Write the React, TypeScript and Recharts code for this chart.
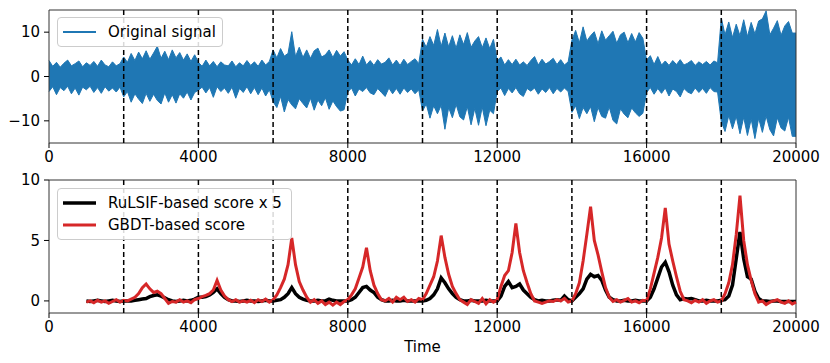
import React from 'react'
import {
  ComposedChart,
  LineChart,
  Area,
  Line,
  XAxis,
  YAxis,
  ReferenceLine,
  ReferenceArea,
  Legend,
} from 'recharts'

const FONT = '"DejaVu Sans", sans-serif'
const BLUE = '#1f77b4'
const RED = '#d62728'

// change points of the signal
const changePoints = [2000, 4000, 6000, 8000, 10000, 12000, 14000, 16000, 18000]
const xTicks = [0, 4000, 8000, 12000, 16000, 20000]
const signalTicks = [-10, 0, 10]
const scoreTicks = [0, 5, 10]

// envelope of the original signal, one max / min per 100 time steps
const signalHigh = [
  3.6, 2.3, 3.2, 2.1, 3.0, 3.7, 2.4, 2.9, 3.5, 2.2, 3.1, 2.5, 3.4, 2.3, 3.7, 2.6, 2.2, 3.3, 2.4, 2.9,
  4.4, 3.2, 5.2, 3.6, 5.5, 4.0, 5.8, 3.9, 5.3, 6.8, 4.1, 5.7, 3.8, 6.0, 4.2, 5.4, 3.7, 5.1, 3.4, 4.9,
  3.2, 2.3, 3.7, 2.4, 3.4, 2.2, 3.3, 2.6, 2.4, 3.5, 2.2, 3.1, 2.4, 3.6, 2.5, 3.3, 2.3, 3.7, 2.6, 3.4,
  6.0, 4.2, 6.3, 4.6, 5.2, 10.1, 4.5, 6.6, 4.3, 6.0, 4.1, 5.8, 6.4, 4.4, 4.9, 6.0, 4.3, 5.9, 4.6, 5.6,
  3.7, 2.6, 4.0, 2.7, 4.6, 2.6, 3.6, 2.5, 3.8, 2.8, 3.2, 4.2, 2.6, 3.7, 2.5, 3.9, 2.7, 3.4, 4.0, 2.9,
  8.4, 6.6, 9.0, 7.0, 10.6, 6.8, 9.8, 6.7, 9.2, 6.4, 9.4, 7.2, 9.9, 6.6, 8.0, 9.0, 6.5, 8.7, 6.3, 8.4,
  3.6, 4.4, 2.6, 3.8, 2.7, 3.9, 2.6, 3.3, 2.5, 3.6, 4.5, 2.6, 3.9, 2.8, 3.4, 4.1, 2.7, 3.8, 2.6, 3.3,
  8.2, 10.4, 7.6, 11.2, 8.0, 9.2, 10.1, 7.4, 10.3, 8.2, 9.2, 10.2, 7.5, 9.4, 10.0, 7.6, 9.7, 7.8, 9.9, 8.6,
  3.7, 4.7, 2.7, 4.5, 2.6, 3.5, 2.5, 3.6, 2.7, 3.8, 2.6, 3.0, 3.6, 2.5, 3.3, 2.7, 3.4, 2.6, 3.5, 3.1,
  13.2, 9.4, 12.3, 8.8, 11.8, 9.2, 12.8, 9.0, 12.2, 9.6, 12.5, 13.0, 14.8, 9.4, 10.9, 12.6, 9.3, 11.4, 12.4, 9.8,
]
const signalLow = [
  -3.4, -2.3, -4.1, -2.5, -3.2, -2.2, -3.9, -2.6, -4.2, -2.4, -3.0, -2.2, -3.6, -2.5, -3.8, -2.3, -3.3, -2.6, -3.5, -2.4,
  -4.6, -3.4, -5.8, -3.9, -5.1, -6.1, -3.8, -5.6, -4.0, -5.4, -6.2, -3.7, -5.8, -4.1, -6.0, -3.9, -4.9, -3.5, -5.3, -3.6,
  -3.1, -2.4, -3.7, -2.5, -4.7, -2.3, -3.4, -2.6, -3.8, -2.4, -4.9, -2.7, -3.6, -2.3, -3.9, -2.5, -4.1, -2.6, -4.4, -3.0,
  -5.7, -7.0, -4.5, -8.0, -5.2, -6.4, -7.3, -5.0, -6.1, -7.1, -4.9, -7.6, -5.3, -6.6, -4.8, -7.4, -5.5, -6.8, -7.8, -7.5,
  -3.5, -2.6, -4.4, -2.8, -3.4, -2.5, -3.7, -4.1, -2.7, -3.6, -4.5, -2.6, -3.9, -2.7, -4.0, -2.6, -3.6, -2.8, -3.9, -3.0,
  -7.8, -6.2, -9.4, -6.6, -8.4, -6.5, -11.9, -7.0, -9.3, -6.3, -9.1, -9.8, -6.8, -10.9, -7.2, -11.0, -6.9, -11.1, -7.6, -8.4,
  -3.4, -2.6, -4.3, -2.7, -3.7, -2.5, -3.9, -4.5, -2.7, -3.3, -2.6, -4.0, -2.8, -3.6, -2.5, -3.9, -2.7, -3.5, -2.6, -3.4,
  -8.1, -6.6, -9.5, -7.0, -8.4, -6.8, -10.2, -7.0, -9.0, -9.4, -6.9, -9.9, -10.7, -7.3, -8.5, -9.3, -7.1, -8.2, -9.0, -8.3,
  -3.6, -2.5, -4.0, -2.7, -3.8, -2.6, -4.4, -2.8, -3.4, -4.6, -2.7, -3.5, -3.9, -2.6, -3.6, -2.7, -3.8, -2.5, -3.4, -3.5,
  -10.2, -12.4, -8.8, -11.8, -9.0, -12.9, -9.2, -13.3, -9.6, -14.0, -9.4, -12.6, -8.9, -12.0, -13.4, -9.3, -11.6, -12.3, -9.2, -13.5,
]

// scores, sampled every 100 steps from t = 1000 to t = 20000
const gbdtScore = [
  -0.1, 0.0, -0.15, 0.05, -0.1, 0.0, -0.2, -0.05, 0.1, -0.1,
  0.05, 0.0, 0.15, 0.3, 0.6, 1.1, 1.4, 1.0, 0.7, 0.8,
  0.6, 0.2, -0.2, -0.05, -0.1, 0.1, -0.1, 0.0, -0.15, 0.1,
  0.2, 0.35, 0.45, 0.6, 0.9, 1.7, 0.9, 0.4, 0.1, -0.05,
  0.1, -0.1, 0.0, -0.1, 0.05, -0.15, 0.1, -0.05, 0.15, -0.1,
  0.1, 0.5, 1.1, 1.8, 3.0, 5.2, 3.0, 1.6, 0.9, 0.3,
  -0.1, 0.1, -0.2, 0.0, -0.3, -0.1, -0.35, -0.1, -0.3, -0.05,
  0.1, 0.5, 1.0, 1.9, 2.8, 4.4, 2.5, 1.3, 0.6, 0.1,
  0.0, 0.2, -0.1, 0.3, 0.1, 0.3, -0.05, 0.1, -0.1, 0.2,
  0.1, 0.6, 1.3, 2.0, 3.3, 5.4, 3.6, 2.2, 1.2, 0.6,
  0.1, -0.1, -0.3, 0.1, -0.05, -0.2, 0.2, -0.25, 0.1, -0.1,
  0.1, 1.2, 2.1, 2.5, 4.0, 6.4, 4.0, 2.5, 1.5, 0.6,
  0.0, -0.1, -0.2, -0.1, 0.0, -0.05, 0.1, 0.0, 0.2, -0.1,
  0.0, 0.6, 1.5, 3.3, 5.5, 7.8, 5.0, 3.8, 2.4, 1.1,
  0.3, -0.05, 0.1, -0.1, 0.05, 0.2, -0.1, 0.0, -0.15, 0.05,
  0.0, 1.0, 2.3, 3.6, 5.2, 7.7, 4.7, 3.3, 2.0, 0.8,
  0.1, 0.0, -0.15, 0.05, -0.1, 0.1, -0.2, 0.0, 0.1, -0.1,
  0.0, 0.6, 1.5, 3.0, 5.5, 8.7, 5.0, 3.0, 1.7, 0.6,
  -0.1, 0.0, -0.3, -0.1, 0.0, 0.1, -0.1, -0.2, 0.0, -0.25,
  -0.1,
]
const rulsifScore = [
  0.0, -0.05, 0.0, 0.05, 0.0, -0.05, 0.0, 0.05, 0.0, -0.05,
  0.0, 0.0, 0.0, 0.05, 0.1, 0.15, 0.2, 0.35, 0.45, 0.5,
  0.4, 0.25, 0.1, 0.0, -0.05, 0.0, 0.05, 0.0, 0.05, 0.15,
  0.3, 0.3, 0.35, 0.5, 0.7, 1.0, 0.6, 0.3, 0.1, 0.0,
  0.0, -0.05, 0.0, 0.05, 0.0, 0.0, -0.05, 0.0, 0.05, 0.0,
  0.0, 0.05, 0.1, 0.3, 0.6, 1.1, 0.6, 0.3, 0.15, 0.05,
  0.0, 0.0, 0.05, 0.0, 0.0, 0.15, 0.05, 0.0, 0.0, 0.0,
  0.0, 0.1, 0.3, 0.7, 1.1, 1.2, 0.9, 0.7, 0.3, 0.1,
  0.0, 0.0, 0.05, 0.0, 0.0, 0.05, 0.0, 0.0, 0.0, 0.0,
  0.0, 0.05, 0.2, 0.5, 1.0, 1.9, 1.5, 1.0, 0.6, 0.3,
  0.1, 0.0, 0.0, 0.05, 0.0, 0.0, 0.0, 0.05, 0.0, 0.0,
  0.0, 0.4, 1.2, 1.6, 1.1, 1.2, 1.4, 0.9, 0.6, 0.3,
  0.1, 0.0, 0.05, 0.0, 0.0, 0.05, 0.1, 0.05, 0.4, 0.1,
  0.0, 0.3, 0.6, 1.0, 1.8, 2.2, 2.0, 2.1, 1.7, 0.9,
  0.3, 0.1, 0.0, 0.0, 0.05, 0.0, 0.0, 0.05, 0.0, 0.0,
  0.0, 0.3, 1.0, 1.9, 2.8, 3.2, 2.4, 1.3, 0.5, 0.1,
  0.2, 0.15, 0.2, 0.1, 0.0, 0.0, 0.05, 0.0, 0.0, 0.0,
  0.05, 0.1, 0.4, 1.3, 3.5, 5.7, 3.5, 2.0, 1.8, 0.8,
  0.2, 0.0, 0.0, -0.05, 0.0, 0.0, -0.05, -0.05, -0.05, -0.05,
  -0.05,
]

const signalData = signalHigh
  .map((hi, i) => ({ t: i * 100, sig: [signalLow[i], hi] }))
  .concat([{ t: 20000, sig: [signalLow[signalLow.length - 1], signalHigh[signalHigh.length - 1]] }])

const scoreData = gbdtScore.map((g, i) => ({ t: 1000 + i * 100, gbdt: g, rulsif: rulsifScore[i] }))

const tickStyle = { fill: '#000', fontSize: 15, fontFamily: FONT }
const fmt = (v: number) => (v < 0 ? '\u2212' + Math.abs(v) : String(v))

function LegendBox({ items, width }: { items: { label: string; color: string; w: number }[]; width: number }) {
  return (
    <div
      style={{
        width,
        boxSizing: 'border-box',
        border: '1px solid #cccccc',
        borderRadius: 4,
        background: 'rgba(255,255,255,0.85)',
        padding: '3px 0 3px 5px',
        fontFamily: FONT,
        fontSize: 15,
        color: '#000',
      }}
    >
      {items.map((it) => (
        <div key={it.label} style={{ display: 'flex', alignItems: 'center', height: 22 }}>
          <svg width={33} height={10} style={{ marginRight: 12 }}>
            <line x1={0} y1={5} x2={33} y2={5} stroke={it.color} strokeWidth={it.w} />
          </svg>
          <span>{it.label}</span>
        </div>
      ))}
    </div>
  )
}

function Frame({ yMin, yMax }: { yMin: number; yMax: number }) {
  return (
    <ReferenceArea x1={0} x2={20000} y1={yMin} y2={yMax} fill="none" stroke="#333" strokeWidth={1} />
  )
}

export default function App() {
  return (
    <div style={{ position: 'absolute', left: 0, top: 0, width: 830, height: 363, background: '#fff' }}>
      <ComposedChart width={830} height={170} data={signalData} margin={{ top: 10, right: 34, left: 9, bottom: 2 }}>
        <XAxis
          dataKey="t"
          type="number"
          domain={[0, 20000]}
          ticks={xTicks}
          tick={tickStyle}
          tickLine={{ stroke: '#000' }}
          tickSize={5}
          tickMargin={3}
          axisLine={false}
          height={25}
        />
        <YAxis
          type="number"
          domain={[-15, 15]}
          ticks={signalTicks}
          tickFormatter={fmt}
          tick={tickStyle}
          tickLine={{ stroke: '#000' }}
          tickSize={5}
          tickMargin={4}
          axisLine={false}
          width={40}
          allowDataOverflow
        />
        <Area
          type="linear"
          dataKey="sig"
          stroke={BLUE}
          strokeWidth={1}
          fill={BLUE}
          fillOpacity={1}
          isAnimationActive={false}
          name="Original signal"
        />
        {changePoints.map((x) => (
          <ReferenceLine key={x} x={x} stroke="#000" strokeWidth={1.5} strokeDasharray="5 3" />
        ))}
        <Frame yMin={-15} yMax={15} />
        <Legend
          layout="horizontal"
          verticalAlign="middle"
          align="center"
          wrapperStyle={{ left: 57, top: 17, width: 166 }}
          content={() => <LegendBox width={166} items={[{ label: 'Original signal', color: BLUE, w: 2 }]} />}
        />
      </ComposedChart>
      <LineChart width={830} height={193} data={scoreData} margin={{ top: 10, right: 34, left: 9, bottom: 2 }}>
        <XAxis
          dataKey="t"
          type="number"
          domain={[0, 20000]}
          ticks={xTicks}
          tick={tickStyle}
          tickLine={{ stroke: '#000' }}
          tickSize={5}
          tickMargin={3}
          axisLine={false}
          height={48}
          label={{ value: 'Time', position: 'insideBottom', offset: 9, fill: '#000', fontSize: 15, fontFamily: FONT }}
        />
        <YAxis
          type="number"
          domain={[-1, 10]}
          ticks={scoreTicks}
          tick={tickStyle}
          tickLine={{ stroke: '#000' }}
          tickSize={5}
          tickMargin={4}
          axisLine={false}
          width={40}
          allowDataOverflow
        />
        <Line
          type="linear"
          dataKey="rulsif"
          stroke="#000"
          strokeWidth={3.5}
          dot={false}
          isAnimationActive={false}
          name="RuLSIF-based score x 5"
        />
        <Line
          type="linear"
          dataKey="gbdt"
          stroke={RED}
          strokeWidth={3}
          dot={false}
          isAnimationActive={false}
          name="GBDT-based score"
        />
        {changePoints.map((x) => (
          <ReferenceLine key={x} x={x} stroke="#000" strokeWidth={1.5} strokeDasharray="5 3" />
        ))}
        <Frame yMin={-1} yMax={10} />
        <Legend
          layout="horizontal"
          verticalAlign="middle"
          align="center"
          wrapperStyle={{ left: 57, top: 18, width: 235 }}
          content={() => (
            <LegendBox
              width={235}
              items={[
                { label: 'RuLSIF-based score x 5', color: '#000', w: 3.5 },
                { label: 'GBDT-based score', color: RED, w: 3 },
              ]}
            />
          )}
        />
      </LineChart>
    </div>
  )
}
